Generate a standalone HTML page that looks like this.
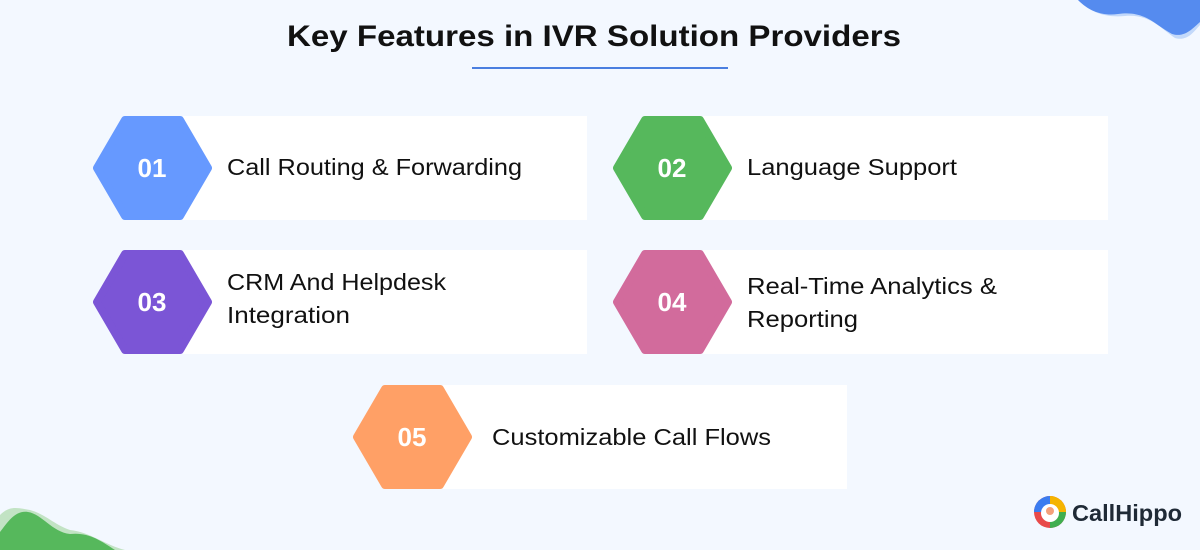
<!DOCTYPE html>
<html><head><meta charset="utf-8"><style>
html,body{margin:0;padding:0;background:#f3f8ff;}
svg{display:block}
text{font-family:"Liberation Sans",sans-serif;}
</style></head><body>
<svg width="1200" height="550" viewBox="0 0 1200 550" xmlns="http://www.w3.org/2000/svg">
<rect width="1200" height="550" fill="#f3f8ff"/>
<!-- top-right blob -->
<path d="M1078 0 C1090 12 1105 18 1125 16 C1150 14 1160 28 1175 38 C1188 42 1195 30 1200 25 L1200 0 Z" fill="#c3d9fa"/>
<path d="M1078 0 C1090 12 1103 16 1118 14 C1145 10 1155 25 1172 34 C1185 38 1193 28 1200 22 L1200 0 Z" fill="#558bef"/>
<!-- bottom-left blob -->
<path d="M0 550 L0 515 C10 505 18 508 30 510 C45 514 55 525 70 530 C90 532 105 545 125 550 Z" fill="#c2e3c4"/>
<path d="M0 550 L0 532 C8 522 15 510 28 512 C42 514 52 532 70 534 C88 532 100 540 115 550 Z" fill="#56b85c"/>
<!-- title -->
<text x="287" y="46" textLength="614" lengthAdjust="spacingAndGlyphs" font-size="30" font-weight="bold" fill="#111">Key Features in IVR Solution Providers</text>
<rect x="472" y="67" width="256" height="2" fill="#4a7fe0"/>
<g font-size="23" fill="#111">
<rect x="183" y="116" width="404" height="104" fill="#fff"/>
<rect x="703" y="116" width="405" height="104" fill="#fff"/>
<rect x="183" y="250" width="404" height="104" fill="#fff"/>
<rect x="703" y="250" width="405" height="104" fill="#fff"/>
<rect x="443" y="385" width="404" height="104" fill="#fff"/>
<text x="227" y="175" textLength="295" lengthAdjust="spacingAndGlyphs">Call Routing &amp; Forwarding</text>
<text x="747" y="175" textLength="210" lengthAdjust="spacingAndGlyphs">Language Support</text>
<text x="227" y="290" textLength="219" lengthAdjust="spacingAndGlyphs">CRM And Helpdesk</text>
<text x="227" y="323" textLength="123" lengthAdjust="spacingAndGlyphs">Integration</text>
<text x="747" y="294" textLength="250" lengthAdjust="spacingAndGlyphs">Real-Time Analytics &amp;</text>
<text x="747" y="327" textLength="111" lengthAdjust="spacingAndGlyphs">Reporting</text>
<text x="492" y="445" textLength="279" lengthAdjust="spacingAndGlyphs">Customizable Call Flows</text>
</g>
<g stroke-linejoin="round" stroke-width="8">
<polygon points="97,168 125,120 180,120 208,168 180,216 125,216" fill="#6699ff" stroke="#6699ff"/>
<polygon points="617,168 645,120 700,120 728,168 700,216 645,216" fill="#56b85c" stroke="#56b85c"/>
<polygon points="97,302 125,254 180,254 208,302 180,350 125,350" fill="#7b55d6" stroke="#7b55d6"/>
<polygon points="617,302 645,254 700,254 728,302 700,350 645,350" fill="#d26b9c" stroke="#d26b9c"/>
<polygon points="357,437 385,389 440,389 468,437 440,485 385,485" fill="#ffa066" stroke="#ffa066"/>
</g>
<g font-size="26" font-weight="bold" fill="#fff" text-anchor="middle">
<text x="152" y="177">01</text>
<text x="672" y="177">02</text>
<text x="152" y="311">03</text>
<text x="672" y="311">04</text>
<text x="412" y="446">05</text>
</g>
<!-- logo -->
<circle cx="1050" cy="512" r="16" fill="#e84a4a"/>
<path d="M1050 496 A16 16 0 0 1 1066 512 L1050 512 Z" fill="#f5b400"/>
<path d="M1066 512 A16 16 0 0 1 1050 528 L1050 512 Z" fill="#3fae4f"/>
<path d="M1034 512 A16 16 0 0 1 1050 496 L1050 512 Z" fill="#3b7cf0"/>
<circle cx="1050" cy="513" r="9" fill="#fff"/>
<circle cx="1050" cy="511" r="4" fill="#f4a07a"/>
<text x="1072" y="521" font-size="23" font-weight="bold" fill="#1f2a36" textLength="110" lengthAdjust="spacingAndGlyphs">CallHippo</text>
</svg>
</body></html>
